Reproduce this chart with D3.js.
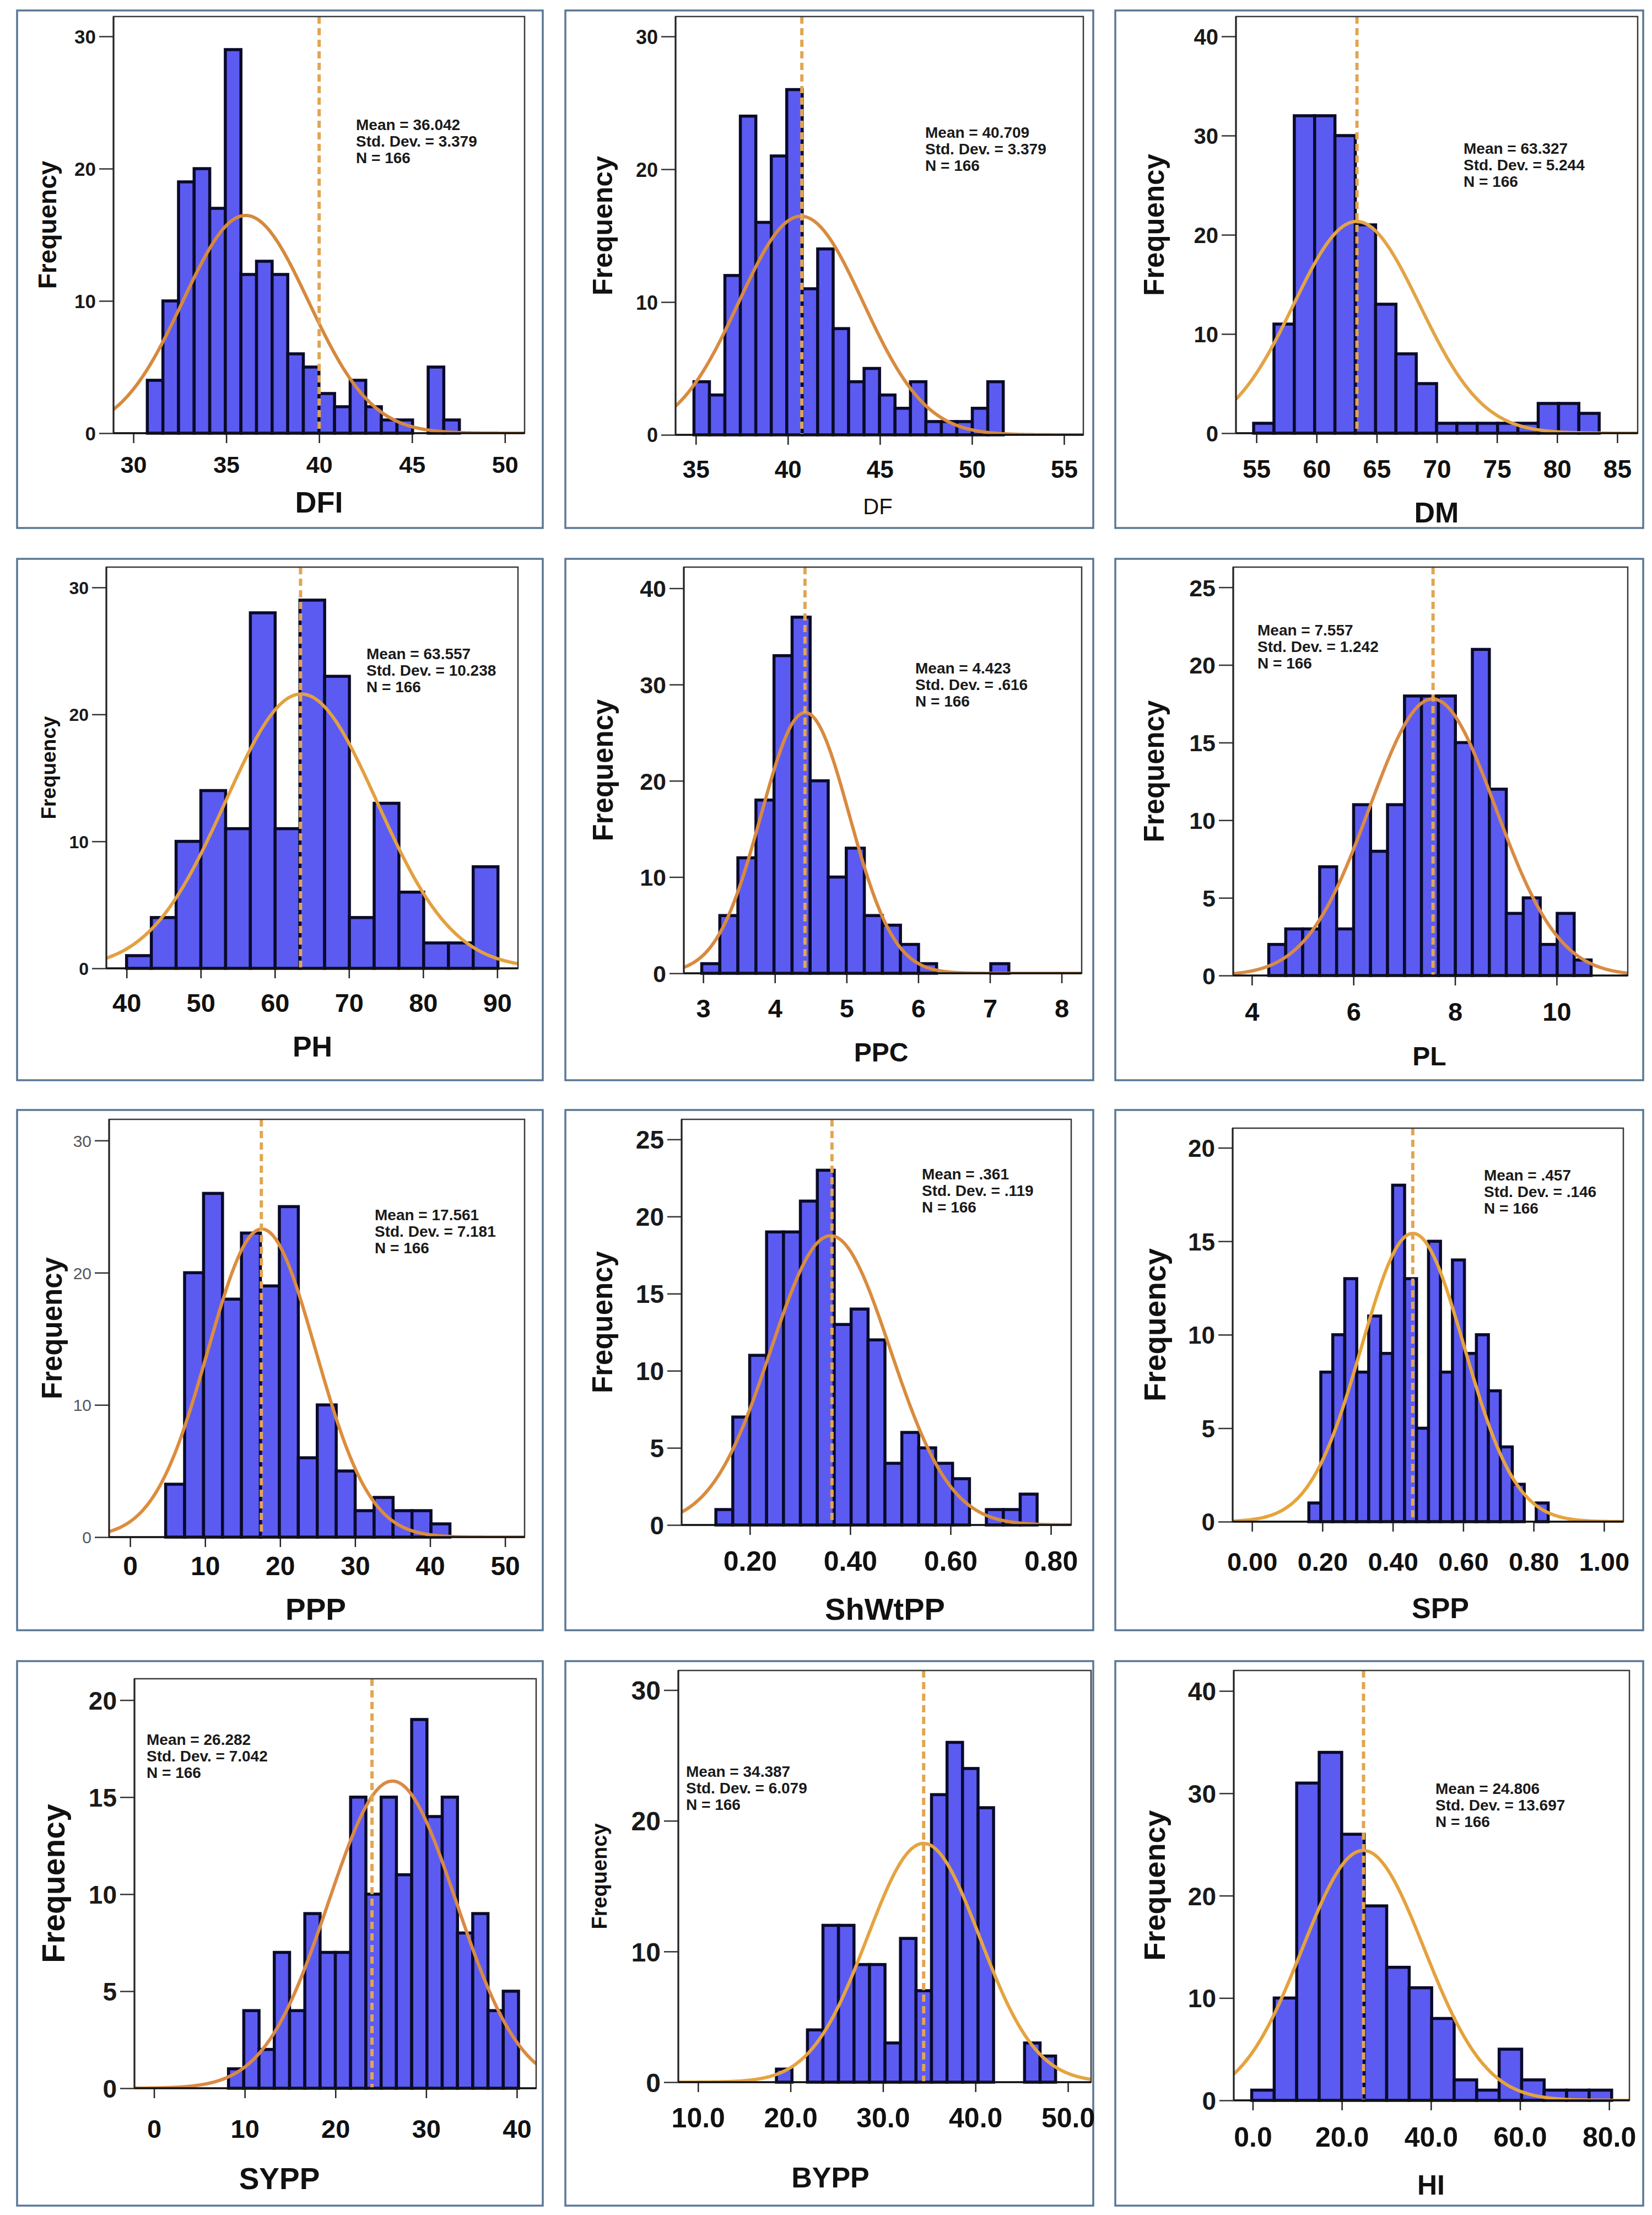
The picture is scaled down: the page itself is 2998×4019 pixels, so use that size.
<!DOCTYPE html>
<html><head><meta charset="utf-8">
<script src="https://cdn.jsdelivr.net/npm/d3@7/dist/d3.min.js"></script>
<style>body{margin:0;background:#fff} svg{display:block}</style>
</head><body>
<svg id="chart" width="2998" height="4019"></svg>
<script>
// ---------------- DATA ----------------
const variables = ["DFI","DF","DM","PH","PPC","PL","PPP","ShWtPP","SPP","SYPP","BYPP","HI"];
const meanLabels = ["36.042","40.709","63.327","63.557","4.423","7.557","17.561",".361",".457","26.282","34.387","24.806"];
const sdLabels   = ["3.379","3.379","5.244","10.238",".616","1.242","7.181",".119",".146","7.042","6.079","13.697"];
const nLabels    = ["166","166","166","166","166","166","166","166","166","166","166","166"];
const means = [36.042, 40.709, 63.327, 63.557, 4.423, 7.557, 17.561, 0.361, 0.457, 26.282, 34.387, 24.806];
const sds   = [3.379, 3.379, 5.244, 10.238, 0.616, 1.242, 7.181, 0.119, 0.146, 7.042, 6.079, 13.697];

// histogram bins: first edge and width
const binStart = [30.75, 34.9, 54.77, 40.0, 2.98, 4.333, 4.74, 0.1323, 0.1615, 8.21, 18.48, -0.23];
const binWidth = [0.84, 0.84, 1.69, 3.34, 0.252, 0.334, 2.527, 0.0337, 0.034, 1.683, 1.677, 5.05];

const countsDFI    = [4,10,19,20,17,29,12,13,12,6,5,3,2,4,2,1,1,0,5,1];
const countsDF     = [4,3,12,24,16,21,26,11,14,8,4,5,3,2,4,1,1,1,2,4];
const countsDM     = [1,11,32,32,30,21,13,8,5,1,1,1,1,1,3,3,2];
const countsPH     = [1,4,10,14,11,28,11,29,23,4,13,6,2,2,8];
const countsPPC    = [1,6,12,18,33,37,20,10,13,6,5,3,1,0,0,0,1];
const countsPL     = [2,3,3,7,3,11,8,11,18,18,18,15,21,12,4,5,2,4,1];
const countsPPP    = [4,20,26,18,23,19,25,6,10,5,2,3,2,2,1];
const countsShWtPP = [1,7,11,19,19,21,23,13,14,12,4,6,5,4,3,0,1,1,2];
const countsSPP    = [1,8,10,13,8,11,9,18,13,5,15,8,14,9,10,7,4,2,0,1];
const countsSYPP   = [1,4,2,7,4,9,7,7,15,10,15,11,19,14,15,8,9,4,5];
const countsBYPP   = [1,0,4,12,12,9,9,3,11,7,22,26,24,21,0,0,3,2];
const countsHI     = [1,10,31,34,26,19,13,11,8,2,1,5,2,1,1,1];
const allCounts = [countsDFI,countsDF,countsDM,countsPH,countsPPC,countsPL,countsPPP,countsShWtPP,countsSPP,countsSYPP,countsBYPP,countsHI];

// dashed reference line position (as drawn)
const refLine = [40.0, 40.76, 63.36, 63.47, 4.42, 7.567, 17.5, 0.3637, 0.4567, 24.03, 34.4, 24.87];

// axis ranges and ticks
const xDomains = [[28.93,51.06],[33.9,56.05],[53.3,86.7],[37.27,92.8],[2.73,8.28],[3.633,11.4],
                  [-2.8,52.6],[0.064,0.8406],[-0.055,1.055],[-2.16,42.13],[7.87,52.5],[-4.26,84.56]];
const yMax = [31.5,31.5,42,31.6,42.2,26.3,31.6,26.3,21.05,21.1,31.5,42];
const xTickValues = [[30,35,40,45,50],[35,40,45,50,55],[55,60,65,70,75,80,85],[40,50,60,70,80,90],
                     [3,4,5,6,7,8],[4,6,8,10],[0,10,20,30,40,50],[0.2,0.4,0.6,0.8],
                     [0,0.2,0.4,0.6,0.8,1.0],[0,10,20,30,40],[10,20,30,40,50],[0,20,40,60,80]];
const xTickLabels = [["30","35","40","45","50"],["35","40","45","50","55"],["55","60","65","70","75","80","85"],
                     ["40","50","60","70","80","90"],["3","4","5","6","7","8"],["4","6","8","10"],
                     ["0","10","20","30","40","50"],["0.20","0.40","0.60","0.80"],
                     ["0.00","0.20","0.40","0.60","0.80","1.00"],["0","10","20","30","40"],
                     ["10.0","20.0","30.0","40.0","50.0"],["0.0","20.0","40.0","60.0","80.0"]];
const yTickValues = [[0,10,20,30],[0,10,20,30],[0,10,20,30,40],[0,10,20,30],[0,10,20,30,40],[0,5,10,15,20,25],
                     [0,10,20,30],[0,5,10,15,20,25],[0,5,10,15,20],[0,5,10,15,20],[0,10,20,30],[0,10,20,30,40]];

// ---------------- LAYOUT / STYLE ----------------
const FONT = "'Liberation Sans', Arial, Helvetica, sans-serif";
const layout = [
 {frame:[31,19,985,958],   plot:[206,30,952,786],   yF:35, yW:"bold", yC:"#1a1a1a", xF:43, xOff:72, tF:54, tW:"bold", tX:579,  tY:930,  fF:46, fX:69,   sX:646,  sY:236,  curve:"#d6893d"},
 {frame:[1026,19,1984,958],plot:[1226,30,1966,789], yF:36, yW:"bold", yC:"#1a1a1a", xF:44, xOff:78, tF:40, tW:"normal", tX:1593, tY:933, fF:50, fX:1075, sX:1679, sY:250, curve:"#d88b3f"},
 {frame:[2024,19,2982,958],plot:[2243,30,2972,786], yF:40, yW:"bold", yC:"#1a1a1a", xF:46, xOff:81, tF:52, tW:"bold", tX:2607, tY:948,  fF:51, fX:2075, sX:2656, sY:279,  curve:"#e3a446"},
 {frame:[31,1014,985,1960],plot:[193,1029,940,1757], yF:32, yW:"bold", yC:"#1a1a1a", xF:47, xOff:79, tF:52, tW:"bold", tX:567,  tY:1917, fF:37, fX:74,   sX:665,  sY:1196, curve:"#e3a041"},
 {frame:[1026,1014,1984,1960],plot:[1241,1029,1963,1766], yF:43, yW:"bold", yC:"#1a1a1a", xF:47, xOff:80, tF:48, tW:"bold", tX:1599, tY:1926, fF:51, fX:1075, sX:1661, sY:1222, curve:"#d88a3e"},
 {frame:[2024,1014,2982,1960],plot:[2238,1029,2954,1770], yF:43, yW:"bold", yC:"#1a1a1a", xF:47, xOff:82, tF:48, tW:"bold", tX:2594, tY:1933, fF:51, fX:2075, sX:2282, sY:1153, curve:"#d98b45"},
 {frame:[31,2014,985,2958],plot:[198,2031,952,2789], yF:30, yW:"normal", yC:"#555", xF:48, xOff:69, tF:55, tW:"bold", tX:573,  tY:2939, fF:51, fX:75,   sX:680,  sY:2214, curve:"#dc8d3d"},
 {frame:[1026,2014,1984,2958],plot:[1237,2031,1944,2767], yF:46, yW:"bold", yC:"#1a1a1a", xF:50, xOff:83, tF:56, tW:"bold", tX:1606, tY:2939, fF:51, fX:1074, sX:1673, sY:2140, curve:"#d88c3e"},
 {frame:[2024,2014,2982,2958],plot:[2237,2047,2946,2761], yF:44, yW:"bold", yC:"#1a1a1a", xF:47, xOff:89, tF:52, tW:"bold", tX:2614, tY:2936, fF:55, fX:2075, sX:2693, sY:2142, curve:"#e6a43c"},
 {frame:[31,3014,985,4002],plot:[244,3046,973,3789], yF:46, yW:"bold", yC:"#1a1a1a", xF:47, xOff:90, tF:55, tW:"bold", tX:507,  tY:3972, fF:57, fX:76,   sX:266,  sY:3166, curve:"#d98a45"},
 {frame:[1026,3014,1984,4002],plot:[1231,3031,1980,3778], yF:48, yW:"bold", yC:"#1a1a1a", xF:50, xOff:82, tF:52, tW:"bold", tX:1507, tY:3969, fF:38, fX:1074, sX:1245, sY:3224, curve:"#e5a440"},
 {frame:[2024,3014,2982,4002],plot:[2239,3031,2957,3811], yF:46, yW:"bold", yC:"#1a1a1a", xF:50, xOff:84, tF:50, tW:"bold", tX:2597, tY:3982, fF:54, fX:2075, sX:2605, sY:3255, curve:"#e4a23c"}
];

// ---------------- DRAW ----------------
const svg = d3.select("#chart");
svg.append("rect").attr("width",2998).attr("height",4019).attr("fill","#fff");
const defs = svg.append("defs");

layout.forEach((L, i) => {
  const g = svg.append("g");
  const [fx0, fy0, fx1, fy1] = L.frame;
  const [pl, pt, pr, pb] = L.plot;

  // outer panel frame
  g.append("rect").attr("x", fx0).attr("y", fy0).attr("width", fx1 - fx0).attr("height", fy1 - fy0)
    .attr("fill", "#fff").attr("stroke", "#5a7796").attr("stroke-width", 3.5);

  const x = d3.scaleLinear().domain(xDomains[i]).range([pl, pr]);
  const y = d3.scaleLinear().domain([0, yMax[i]]).range([pb, pt]);

  const clipId = "clip" + i;
  defs.append("clipPath").attr("id", clipId).append("rect")
    .attr("x", pl).attr("y", pt).attr("width", pr - pl).attr("height", pb - pt);

  const counts = allCounts[i];
  const bins = counts.map((c, j) => ({ x0: binStart[i] + j * binWidth[i], x1: binStart[i] + (j + 1) * binWidth[i], c }));

  // bars
  g.append("g").selectAll("rect").data(bins.filter(b => b.c > 0)).join("rect")
    .attr("x", b => x(b.x0)).attr("y", b => y(b.c))
    .attr("width", b => x(b.x1) - x(b.x0)).attr("height", b => y(0) - y(b.c))
    .attr("fill", "#5b5bf2").attr("stroke", "#0a0a2a").attr("stroke-width", 5.5);

  // fitted normal curve from stated mean / sd / N and bin width
  const N = d3.sum(counts);
  const k = N * binWidth[i] / (sds[i] * Math.sqrt(2 * Math.PI));
  const [d0, d1] = xDomains[i];
  const pts = d3.range(0, 401).map(t => {
    const xv = d0 + (d1 - d0) * t / 400;
    return [xv, k * Math.exp(-((xv - means[i]) ** 2) / (2 * sds[i] * sds[i]))];
  });
  g.append("path").datum(pts).attr("clip-path", `url(#${clipId})`)
    .attr("d", d3.line().x(d => x(d[0])).y(d => y(d[1])).curve(d3.curveBasis))
    .attr("fill", "none").attr("stroke", L.curve).attr("stroke-width", 6);

  // dashed reference line
  g.append("line").attr("x1", x(refLine[i])).attr("x2", x(refLine[i]))
    .attr("y1", pt).attr("y2", pb)
    .attr("stroke", "#e2a552").attr("stroke-width", 6).attr("stroke-dasharray", "13,8");

  // plot frame
  g.append("rect").attr("x", pl).attr("y", pt).attr("width", pr - pl).attr("height", pb - pt)
    .attr("fill", "none").attr("stroke", "#3a3a3a").attr("stroke-width", 2.5);

  // x axis
  const xAxis = d3.axisBottom(x).tickValues(xTickValues[i])
    .tickFormat((d, j) => xTickLabels[i][j]).tickSize(18).tickSizeOuter(0);
  const gx = g.append("g").attr("transform", `translate(0,${pb})`).call(xAxis)
    .attr("font-family", FONT).attr("font-size", L.xF).attr("font-weight", "bold");
  gx.select(".domain").remove();
  gx.selectAll(".tick line").attr("stroke", "#222").attr("stroke-width", 2.5);
  gx.selectAll(".tick text").attr("y", L.xOff).attr("dy", 0).attr("fill", "#111");

  // y axis
  const yAxis = d3.axisLeft(y).tickValues(yTickValues[i]).tickSize(26).tickSizeOuter(0);
  const gy = g.append("g").attr("transform", `translate(${pl},0)`).call(yAxis)
    .attr("font-family", FONT).attr("font-size", L.yF).attr("font-weight", L.yW);
  gy.select(".domain").remove();
  gy.selectAll(".tick line").attr("stroke", "#333").attr("stroke-width", 2.5);
  gy.selectAll(".tick text").attr("x", -32).attr("dy", "0.36em").attr("fill", L.yC);

  // axis lines
  g.append("line").attr("x1", pl).attr("x2", pr).attr("y1", pb).attr("y2", pb)
    .attr("stroke", "#111").attr("stroke-width", 3.5);
  g.append("line").attr("x1", pl).attr("x2", pl).attr("y1", pt).attr("y2", pb)
    .attr("stroke", "#222").attr("stroke-width", 3);

  // x title
  g.append("text").attr("x", L.tX).attr("y", L.tY).attr("text-anchor", "middle")
    .attr("font-family", FONT).attr("font-size", L.tF).attr("font-weight", L.tW)
    .attr("fill", "#111").text(variables[i]);

  // y title
  const bx = L.fX + 0.72 * L.fF;
  const cy = (pt + pb) / 2;
  g.append("text").attr("transform", `translate(${bx},${cy}) rotate(-90)`).attr("text-anchor", "middle")
    .attr("font-family", FONT).attr("font-size", L.fF).attr("font-weight", "bold")
    .attr("fill", "#111").text("Frequency");

  // stats box
  const st = g.append("text").attr("font-family", FONT).attr("font-size", 28).attr("font-weight", "bold").attr("fill", "#1a1a1a");
  [`Mean = ${meanLabels[i]}`, `Std. Dev. = ${sdLabels[i]}`, `N = ${nLabels[i]}`].forEach((s, j) => {
    st.append("tspan").attr("x", L.sX).attr("y", L.sY + j * 30).text(s);
  });
});
</script>
</body></html>
